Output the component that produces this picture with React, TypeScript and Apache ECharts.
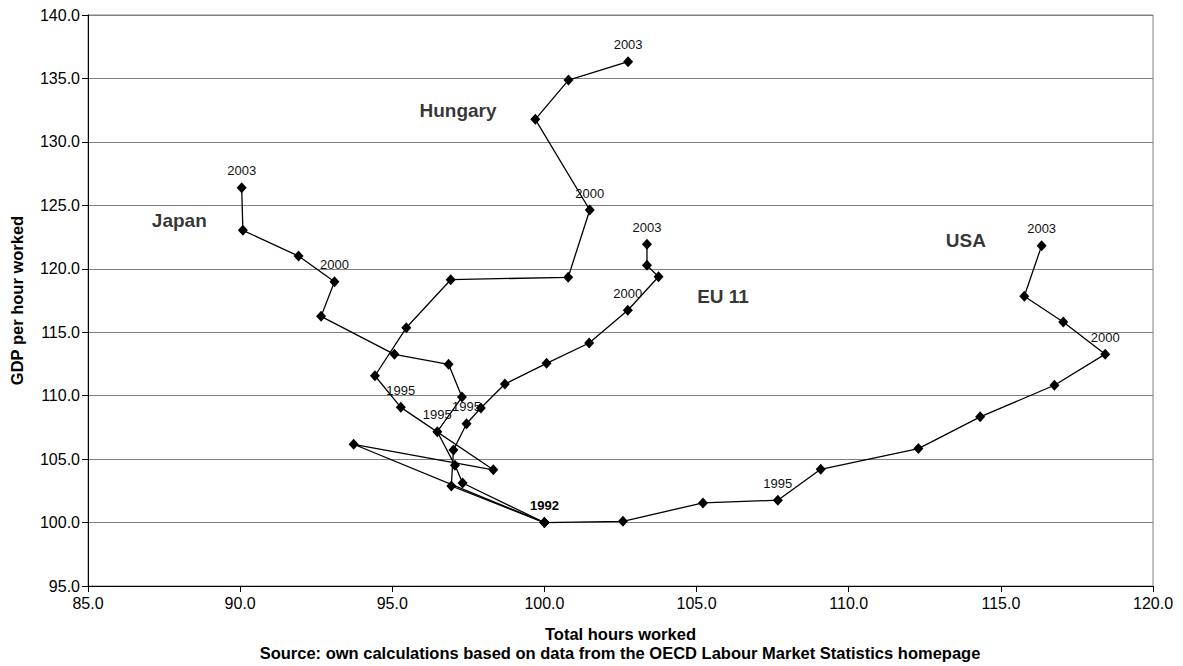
import React, { useEffect, useRef } from "react";
import * as echarts from "echarts";

const years = [1992, 1993, 1994, 1995, 1996, 1997, 1998, 1999, 2000, 2001, 2002, 2003];
const labelledYears = [1995, 2000, 2003];

const japanX = [100, 97.31, 97.06, 96.48, 97.29, 96.85, 95.07, 92.66, 93.1, 91.92, 90.09, 90.05];
const japanY = [100, 103.12, 104.51, 107.16, 109.89, 112.47, 113.26, 116.25, 118.98, 121.0, 123.03, 126.39];

const hungaryX = [100, 93.73, 98.32, 95.28, 94.43, 95.46, 96.92, 100.78, 101.49, 99.7, 100.79, 102.75];
const hungaryY = [100, 106.17, 104.16, 109.08, 111.57, 115.35, 119.14, 119.33, 124.63, 131.78, 134.87, 136.32];

const euX = [100, 96.94, 97.01, 97.44, 97.91, 98.7, 100.07, 101.47, 102.74, 103.75, 103.37, 103.37];
const euY = [100, 102.88, 105.72, 107.79, 109.03, 110.92, 112.55, 114.15, 116.73, 119.37, 120.27, 121.93];

const usaX = [100, 102.58, 105.21, 107.67, 109.08, 112.29, 114.32, 116.76, 118.43, 117.05, 115.77, 116.34];
const usaY = [100, 100.1, 101.55, 101.76, 104.2, 105.83, 108.33, 110.82, 113.27, 115.8, 117.83, 121.82];

const countryNames = ["Japan", "Hungary", "EU 11", "USA"];
const countryLabelX = [88.0, 97.16, 105.87, 113.85];
const countryLabelY = [123.84, 132.51, 117.8, 122.21];

const xTicks = { min: 85, max: 120, interval: 5 };
const yTicks = { min: 95, max: 140, interval: 5 };

const FONT = "'Liberation Sans', Arial, sans-serif";

function buildData(xs: number[], ys: number[], show1992: boolean) {
  return xs.map((x, i) => {
    const yr = years[i];
    const item: any = { value: [x, ys[i]] };
    if (labelledYears.includes(yr)) {
      item.label = {
        show: true,
        position: "top",
        distance: 5,
        formatter: String(yr),
        fontSize: 13,
        color: "#111",
        fontFamily: FONT,
      };
    } else if (yr === 1992 && show1992) {
      item.label = {
        show: true,
        position: "top",
        distance: 5,
        formatter: "1992",
        fontSize: 13,
        fontWeight: "bold",
        color: "#000",
        fontFamily: FONT,
      };
    }
    return item;
  });
}

export default function App() {
  const ref = useRef<HTMLDivElement>(null);
  useEffect(() => {
    document.body.style.margin = "0";
    if (!ref.current) return;
    const chart = echarts.init(ref.current, null, { renderer: "svg" });
    const lineSeries = (name: string, xs: number[], ys: number[], show1992: boolean) => ({
      name,
      type: "line",
      data: buildData(xs, ys, show1992),
      symbol: "diamond",
      symbolSize: [10, 11],
      itemStyle: { color: "#000" },
      lineStyle: { color: "#000", width: 1.3 },
      label: { show: false },
      z: 3,
    });
    chart.setOption({
      animation: false,
      backgroundColor: "#fff",
      grid: {
        left: 88,
        right: 30,
        top: 15,
        bottom: 80,
        show: true,
        borderColor: "#808080",
        borderWidth: 1,
      },
      xAxis: {
        type: "value",
        min: xTicks.min,
        max: xTicks.max,
        interval: xTicks.interval,
        name: "Total hours worked",
        nameLocation: "middle",
        nameGap: 39,
        nameTextStyle: { fontFamily: FONT, fontSize: 16.5, fontWeight: "bold", color: "#000" },
        axisLine: { show: true, onZero: false, lineStyle: { color: "#000", width: 1 } },
        axisTick: { show: true, length: 6, lineStyle: { color: "#000" } },
        axisLabel: {
          formatter: (v: number) => v.toFixed(1),
          fontFamily: FONT,
          fontSize: 16,
          color: "#000",
          margin: 9,
        },
        splitLine: { show: false },
      },
      yAxis: {
        type: "value",
        min: yTicks.min,
        max: yTicks.max,
        interval: yTicks.interval,
        name: "GDP per hour worked",
        nameLocation: "middle",
        nameGap: 63,
        nameRotate: 90,
        nameTextStyle: { fontFamily: FONT, fontSize: 16.5, fontWeight: "bold", color: "#000" },
        axisLine: { show: true, onZero: false, lineStyle: { color: "#000", width: 1 } },
        axisTick: { show: true, length: 6, lineStyle: { color: "#000" } },
        axisLabel: {
          formatter: (v: number) => v.toFixed(1),
          fontFamily: FONT,
          fontSize: 16,
          color: "#000",
          margin: 8,
        },
        splitLine: { show: true, lineStyle: { color: "#808080", width: 1 } },
      },
      series: [
        lineSeries("Japan", japanX, japanY, false),
        lineSeries("Hungary", hungaryX, hungaryY, false),
        lineSeries("EU 11", euX, euY, false),
        lineSeries("USA", usaX, usaY, true),
        {
          type: "scatter",
          symbolSize: 0,
          silent: true,
          data: countryNames.map((n, i) => ({ name: n, value: [countryLabelX[i], countryLabelY[i]] })),
          label: {
            show: true,
            position: "inside",
            formatter: (p: any) => p.name,
            fontFamily: FONT,
            fontSize: 19,
            fontWeight: "bold",
            color: "#000",
          },
          z: 4,
        },
      ],
      graphic: [
        {
          type: "text",
          x: 620,
          y: 653,
          style: {
            text: "Source: own calculations based on data from the OECD Labour Market Statistics homepage",
            fontFamily: FONT,
            fontSize: 16.5,
            fontWeight: "bold",
            fill: "#000",
            textAlign: "center",
            textVerticalAlign: "middle",
          },
        },
      ],
    });
    return () => chart.dispose();
  }, []);
  return <div ref={ref} style={{ width: "100vw", height: "100vh" }} />;
}
